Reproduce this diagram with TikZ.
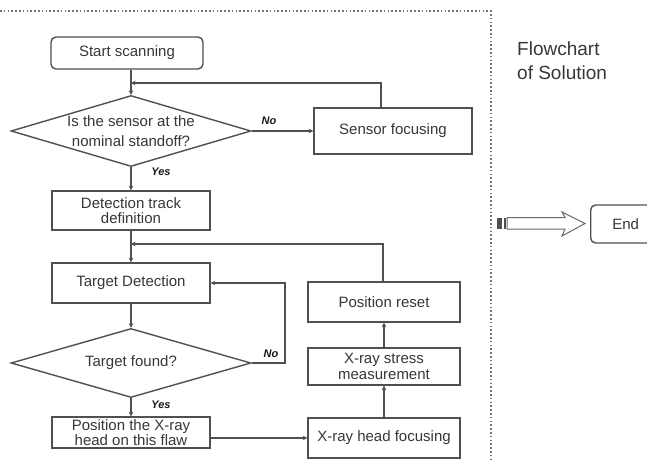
\documentclass[tikz,border=0pt]{standalone}
\usepackage{fontspec}
\setmainfont{Liberation Sans}
\usetikzlibrary{shapes.geometric,arrows.meta}
\definecolor{ln}{RGB}{80,80,80}
\definecolor{tx}{RGB}{55,55,55}
\begin{document}
\begin{tikzpicture}[x=1pt,y=-1pt,
  box/.style={draw=ln,line width=1.4pt,rectangle,inner sep=0pt,align=center,text=tx,font=\fontsize{15}{15.5}\selectfont},
  rbox/.style={box,rounded corners=5pt},
  dia/.style={draw=ln,line width=1.4pt,diamond,aspect=3.4,inner sep=0pt,align=center,text=tx,font=\fontsize{15}{19.5}\selectfont},
  conn/.style={draw=ln,line width=1.4pt,-{Stealth[length=4.5pt,width=4.5pt]}},
  lab/.style={font=\fontsize{11}{11}\selectfont\bfseries\itshape,text=black!90,inner sep=0pt},
  frame/.style={draw=ln!80,line width=1.4pt,dash pattern=on 1.6pt off 2.2pt}]
\useasboundingbox (0,0) rectangle (647,460);
\clip (0,0) rectangle (647,460);
\fill[white] (0,0) rectangle (647,460);

% dotted frame
\draw[frame] (0,11) -- (491,11) -- (491,460);

% nodes
\node[rbox,minimum width=152pt,minimum height=32pt] (start) at (127,53) {Start scanning};
\node[dia,minimum width=240pt,minimum height=71pt] (d1) at (131,131) {Is the sensor at the\\nominal standoff?};
\node[box,minimum width=158pt,minimum height=46pt] (sf) at (393,131) {Sensor focusing};
\node[box,minimum width=158pt,minimum height=39pt] (dtd) at (131,210.5) {Detection track\\definition};
\node[box,minimum width=158pt,minimum height=40pt] (td) at (131,283) {Target Detection};
\node[dia,minimum width=240pt,minimum height=69pt] (d2) at (131,363) {Target found?};
\node[box,minimum width=158pt,minimum height=31pt] (pos) at (131,432.5) {Position the X-ray\\head on this flaw};
\node[box,minimum width=152pt,minimum height=40pt] (xhf) at (384,438) {X-ray head focusing};
\node[box,minimum width=152pt,minimum height=37pt] (xsm) at (384,366.5) {X-ray stress\\measurement};
\node[box,minimum width=152pt,minimum height=40pt] (pr) at (384,302) {Position reset};

\node[anchor=north west,align=left,inner sep=0pt,text=tx,font=\fontsize{19}{24}\selectfont] (title) at (517,42) {Flowchart\\of Solution};

\node[rbox,minimum width=70pt,minimum height=38pt,anchor=west] (end) at (590,224) {End};

% block arrow
\fill[ln] (497,217.5) rectangle (502,229);
\fill[ln] (503.5,217.5) rectangle (505.5,229);
\draw[ln!85,line width=1pt,fill=white] (507,217.5) -- (565,217.5) -- (562,212) -- (585,223.5) -- (562,236) -- (565,229) -- (507,229) -- cycle;

% junctions
\coordinate (j1) at (131,83);
\coordinate (j2) at (131,244);
\coordinate (c2) at (285,363);

% connectors
\draw[conn] (start.south -| d1.north) -- (d1.north);
\draw[conn] ([xshift=-12pt]sf.north) |- (j1);
\draw[conn] (d1.east) -- (sf.west);
\draw[conn] (d1.south) -- (dtd.north);
\draw[conn] (dtd.south) -- (td.north);
\draw[conn] ([xshift=-1pt]pr.north) |- (j2);
\draw[conn] (td.south) -- (d2.north);
\draw[conn] (d2.east) -- (c2) |- (td.east);
\draw[conn] (d2.south) -- (pos.north);
\draw[conn] (pos.east |- xhf.west) -- (xhf.west);
\draw[conn] (xhf.north) -- (xsm.south);
\draw[conn] (xsm.north) -- (pr.south);

% labels
\node[lab] (no1) at (269,121) {No};
\node[lab] (yes1) at (161,172) {Yes};
\node[lab] (no2) at (271,354) {No};
\node[lab] (yes2) at (161,405) {Yes};
\end{tikzpicture}
\end{document}
